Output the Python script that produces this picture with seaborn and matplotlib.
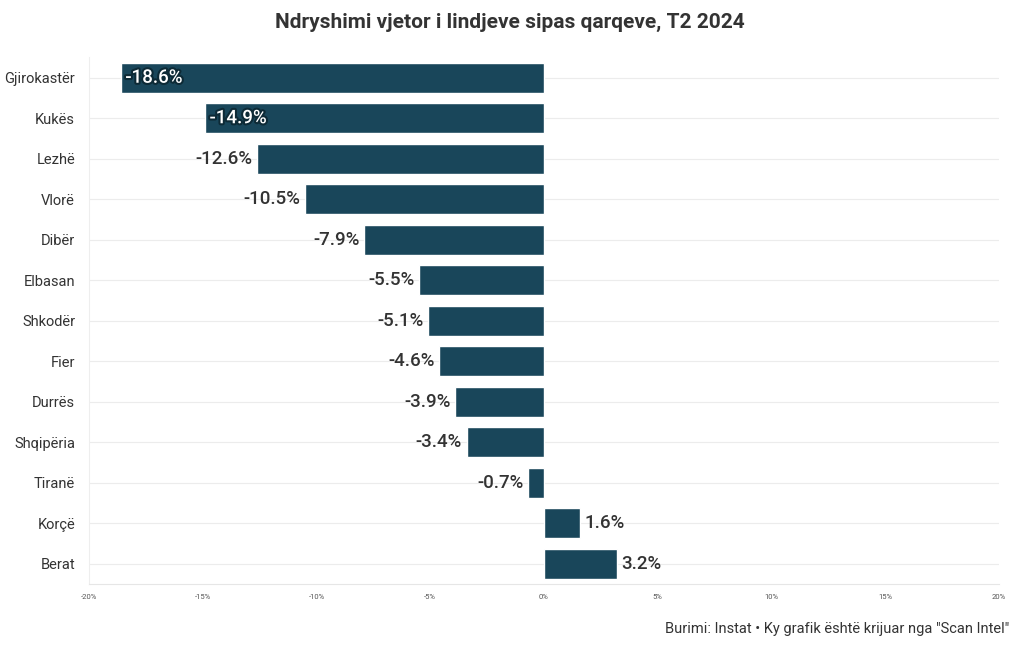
import matplotlib
matplotlib.use("Agg")
import matplotlib.pyplot as plt
import matplotlib.patheffects as pe
import seaborn as sns
import pandas as pd
from matplotlib import font_manager

regions = ["Gjirokastër", "Kukës", "Lezhë", "Vlorë", "Dibër", "Elbasan", "Shkodër",
           "Fier", "Durrës", "Shqipëria", "Tiranë", "Korçë", "Berat"]
changes = [-18.6, -14.9, -12.6, -10.5, -7.9, -5.5, -5.1, -4.6, -3.9, -3.4, -0.7, 1.6, 3.2]
tick_values = [-20, -15, -10, -5, 0, 5, 10, 15, 20]
tick_labels = ["-20%", "-15%", "-10%", "-5%", "0%", "5%", "10%", "15%", "20%"]
title = "Ndryshimi vjetor i lindjeve sipas qarqeve, T2 2024"
source = "Burimi: Instat • Ky grafik është krijuar nga \"Scan Intel\""

sns.set_theme(style="white")
names = {f.name for f in font_manager.fontManager.ttflist}
fam = "Liberation Sans Narrow" if "Liberation Sans Narrow" in names else "Roboto"
plt.rcParams['font.family'] = [fam, 'DejaVu Sans']

df = pd.DataFrame({"region": regions, "change": changes})
bar_color = "#19465a"
text_color = "#333333"

fig = plt.figure(figsize=(10.2, 6.5), dpi=100)
ax = fig.add_axes([89/1020, 1-584/650, 910/1020, (584-57.5)/650])
sns.barplot(data=df, y="region", x="change", orient="h", color=bar_color,
            width=0.75, saturation=1, ax=ax)

ax.set_xlim(-20, 20)
ax.set_xticks(tick_values)
ax.set_xticklabels(tick_labels, fontsize=5.5, color="#555555")
ax.tick_params(axis="x", length=4, color="#e6e6e6", pad=3)
ax.tick_params(axis="y", length=0, pad=10, labelsize=10.5, labelcolor=text_color)
ax.set_xlabel("")
ax.set_ylabel("")
for y in range(len(regions)):
    ax.axhline(y, color="#ececec", lw=0.8, zorder=0)
for s in ["top", "right"]:
    ax.spines[s].set_visible(False)
ax.spines["left"].set_color("#eeeeee")
ax.spines["bottom"].set_color("#e6e6e6")
ax.spines["left"].set_linewidth(0.8)
ax.spines["bottom"].set_linewidth(0.8)

for i, v in enumerate(changes):
    lab = f"{v:.1f}%"
    if v <= -14:
        ax.text(v + 0.2, i, lab, ha="left", va="center", fontsize=13.5, color="white",
                fontweight="medium",
                path_effects=[pe.withStroke(linewidth=3, foreground="#0d2a36")])
    elif v < 0:
        ax.text(v - 0.2, i, lab, ha="right", va="center", fontsize=13.5,
                color=text_color, fontweight="medium")
    else:
        ax.text(v + 0.2, i, lab, ha="left", va="center", fontsize=13.5,
                color=text_color, fontweight="medium")

fig.text(0.5, 1-22/650, title, ha="center", va="center", fontsize=15,
         fontweight="bold", color=text_color)
fig.text(1-11/1020, 1-629/650, source, ha="right", va="center", fontsize=10.5,
         color=text_color)

fig.savefig("out.png", dpi=100)
